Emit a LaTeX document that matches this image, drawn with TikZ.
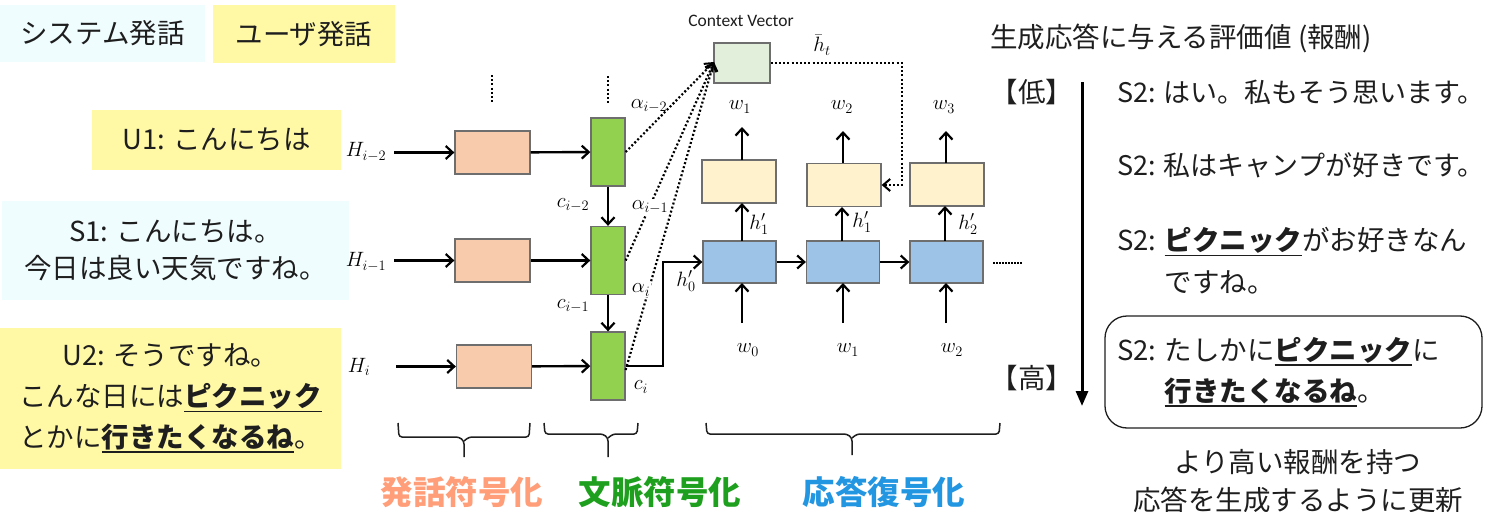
\documentclass[tikz,border=0pt]{standalone}
\usepackage[no-math]{fontspec}
\setmainfont{Noto Sans CJK JP}
\newfontfamily\cvfont{Carlito}
\usetikzlibrary{arrows.meta}

\definecolor{sysbg}{RGB}{240,253,255}
\definecolor{usrbg}{RGB}{255,249,166}
\definecolor{encorange}{RGB}{248,203,173}
\definecolor{ctxgreen}{RGB}{146,208,80}
\definecolor{cvbg}{RGB}{226,239,218}
\definecolor{outcream}{RGB}{255,242,204}
\definecolor{decblue}{RGB}{157,195,230}
\definecolor{boxline}{RGB}{110,110,110}
\definecolor{labo}{RGB}{255,158,120}
\definecolor{labg}{RGB}{30,160,30}
\definecolor{labb}{RGB}{35,150,225}
\definecolor{ink}{RGB}{30,30,30}

% underline used for the emphasised words
\newcommand\uln[1]{\vtop{\hbox{#1}\kern1pt\hrule height 1.8pt}}

\tikzset{
  jp/.style={font=\fontsize{27.5}{38}\selectfont, text=ink},
  jpr/.style={font=\fontsize{27.5}{38}\selectfont, text=ink},
  legend/.style={inner sep=0pt, align=center, jp},
  sysbox/.style={legend, fill=sysbg},
  usrbox/.style={legend, fill=usrbg},
  cell/.style={draw=boxline, line width=1.3pt, inner sep=0pt},
  enc/.style={cell, fill=encorange, minimum width=75, minimum height=43},
  ctxc/.style={cell, fill=ctxgreen, minimum width=34, minimum height=68},
  dec/.style={cell, fill=decblue, minimum width=73, minimum height=42},
  outc/.style={cell, fill=outcream, minimum width=74, minimum height=43},
  mlab/.style={font=\fontsize{21}{23}\selectfont, inner sep=1pt},
  arr/.style={line width=2.4pt, -{Straight Barb[length=7pt,width=13pt,line width=2.2pt]}},
  dotl/.style={line width=2.2pt, dash pattern=on 2pt off 2.2pt},
  datt/.style={dotl, -{Straight Barb[length=7pt,width=12pt,line width=2pt]}},
  brc/.style={line width=1.5pt, draw=ink, rounded corners=3pt},
  lab/.style={font=\bfseries\fontsize{32.5}{34}\selectfont},
  s2/.style={jpr, anchor=west, inner sep=0pt, align=left},
}

\begin{document}
\begin{tikzpicture}[x=1pt, y=-1pt]
\useasboundingbox (0,0) rectangle (1487,511);

% legend and dialogue history
\node[sysbox, minimum width=205, minimum height=57] (sysleg) at (102.5,33.5) {システム発話};
\node[usrbox, minimum width=182, minimum height=58] (usrleg) at (304,34) {ユーザ発話};
\node[usrbox, minimum width=249, minimum height=60] (u1) at (216.5,140) {U1: こんにちは};
\node[sysbox, minimum width=347, minimum height=99, font=\fontsize{27.5}{37}\selectfont] (s1) at (175.5,250.5) {S1: こんにちは。\\今日は良い天気ですね。};
\node[usrbox, minimum width=341, minimum height=141, font=\fontsize{27.5}{41}\selectfont] (u2) at (170.5,398.5)
  {U2: そうですね。\\こんな日には\uln{\bfseries ピクニック}\\とかに\uln{\bfseries 行きたくなるね}。};

% utterance inputs
\node[mlab] (hi2) at (366,152) {$H_{i-2}$};
\node[mlab] (hi1) at (366,262) {$H_{i-1}$};
\node[mlab] (hi0) at (359,367) {$H_{i}$};
\coordinate (in2) at (394,152.5);
\coordinate (in1) at (394,260.5);
\coordinate (in0) at (396,366.5);

% utterance encoder
\node[enc] (o1) at (492.5,152.5) {};
\node[enc] (o2) at (492.5,260.5) {};
\node[enc] (o3) at (494,366.5) {};

% context encoder
\node[ctxc] (g1) at (608,152) {};
\node[ctxc] (g2) at (608,260.5) {};
\node[ctxc] (g3) at (608,366) {};

\draw[arr] (in2) -- (o1);
\draw[arr] (in1) -- (o2);
\draw[arr] (in0) -- (o3);
\draw[arr] (o1) -- (g1);
\draw[arr] (o2) -- (g2);
\draw[arr] (o3) -- (g3);
\draw[arr] (g1) -- (g2);
\draw[arr] (g2) -- (g3);

\draw[dotl] (492,75) -- (492,103);
\draw[dotl] (608,76) -- (608,105);

\node[mlab] (c2) at (573,205) {$c_{i-2}$};
\node[mlab] (c1) at (573,306) {$c_{i-1}$};
\node[mlab] (c0) at (641,387) {$c_{i}$};

% context vector and attention
\node[cell, fill=cvbg, minimum width=56, minimum height=40] (cv) at (742,63) {};
\node[font=\cvfont\fontsize{17.5}{20}\selectfont, text=ink, inner sep=1pt] (cvl) at (741,21) {Context Vector};
\coordinate (att) at (714,62);
\draw[datt] (g1.east) -- (att);
\draw[datt] (g2.east) -- (att);
\draw[datt] ([yshift=-4pt]g3.east) -- (att);
\node[mlab] (a2) at (649,106) {$\alpha_{i-2}$};
\node[mlab, fill=white] (a1) at (650,207) {$\alpha_{i-1}$};
\node[mlab, fill=white] (a0) at (641,290) {$\alpha_{i}$};

% response decoder
\node[dec] (b1) at (739.5,262) {};
\node[dec] (b2) at (843,262) {};
\node[dec] (b3) at (946.5,262) {};
\node[outc] (p1) at (739,181.5) {};
\node[outc] (p2) at (844,185) {};
\node[outc] (p3) at (947,184.5) {};

\draw[line width=2.4pt, -{Straight Barb[length=7pt,width=13pt,line width=2.2pt]}]
  (g3.east) -- (663,366) -- (663,262) -- (b1.west);
\node[mlab] (h0) at (686,281) {$h'_0$};
\draw[arr] (b1) -- (b2);
\draw[arr] (b2) -- (b3);
\draw[line width=2pt, dash pattern=on 1.5pt off 1.5pt] (993,263) -- (1023,263);

\draw[arr] (742,241) -- (742,203);
\draw[arr] (842,241) -- (842,207);
\draw[arr] (945,241) -- (945,206);
\node[mlab] (hp1) at (759,224) {$h'_1$};
\node[mlab] (hp2) at (862,222) {$h'_1$};
\node[mlab] (hp3) at (968,224) {$h'_2$};

\coordinate (t1) at (742,127);
\coordinate (t2) at (843,131);
\coordinate (t3) at (946,131);
\draw[arr] (742,160) -- (t1);
\draw[arr] (843,163) -- (t2);
\draw[arr] (946,163) -- (t3);
\node[mlab] (wo1) at (740,107) {$w_1$};
\node[mlab] (wo2) at (842,107) {$w_2$};
\node[mlab] (wo3) at (944,107) {$w_3$};

\coordinate (s1in) at (742,323);
\coordinate (s2in) at (843,323);
\coordinate (s3in) at (946,323);
\draw[arr] (s1in) -- (742,283);
\draw[arr] (s2in) -- (843,283);
\draw[arr] (s3in) -- (946,283);
\node[mlab] (wi0) at (748,350) {$w_0$};
\node[mlab] (wi1) at (848,350) {$w_1$};
\node[mlab] (wi2) at (952,350) {$w_2$};

\draw[datt] (cv.east) -- (902,63) -- (902,185) -- (p2.east);
\node[mlab] (hbar) at (822,45) {$\bar{h}_t$};

% stage braces and names
\draw[brc] (398,423) -- (399,437) -- (459,437) -- (464,441) -- (464,457);
\draw[brc] (464,441) -- (469,437) -- (529,437) -- (530,423);
\draw[brc] (544,423) -- (545,434) -- (603,434) -- (608,438) -- (608,457);
\draw[brc] (608,438) -- (613,434) -- (637,434) -- (638,423);
\draw[brc] (706,423) -- (707,434) -- (847,434) -- (852,438) -- (852,455);
\draw[brc] (852,438) -- (857,434) -- (999,434) -- (1000,423);
\node[lab, text=labo] (l1) at (462,492) {発話符号化};
\node[lab, text=labg] (l2) at (660,492) {文脈符号化};
\node[lab, text=labb] (l3) at (884,492) {応答復号化};

% reward ranking
\node[jp, anchor=west, inner sep=0pt] (rt) at (990,38) {生成応答に与える評価値 (報酬)};
\node[jpr] (lo) at (1032,92) {【低】};
\node[jpr] (hi) at (1032,378) {【高】};
\coordinate (rtop) at (1082,82);
\coordinate (rbot) at (1082,406);
\draw[line width=3pt, -{Triangle[length=15pt,width=12pt]}] (rtop) -- (rbot);

\node[s2, font=\fontsize{27}{38}\selectfont] (r1) at (1117,92) {S2: はい。私もそう思います。};
\node[s2, font=\fontsize{27}{38}\selectfont] (r2) at (1117,165) {S2: 私はキャンプが好きです。};
\node[s2, font=\fontsize{27.5}{42}\selectfont] (r3) at (1117,261)
  {S2: \uln{\bfseries ピクニック}がお好きなん\\\phantom{S2: }ですね。};
\node[draw=ink, line width=1.3pt, rounded corners=22pt, minimum width=377, minimum height=112] (best) at (1293.5,372) {};
\node[s2, font=\fontsize{27.5}{41}\selectfont] (r4) at (1117,372)
  {S2: たしかに\uln{\bfseries ピクニック}に\\\phantom{S2: }\uln{\bfseries 行きたくなるね}。};
\node[jpr, align=center] (upd) at (1298,481) {より高い報酬を持つ\\応答を生成するように更新};
\end{tikzpicture}
\end{document}
